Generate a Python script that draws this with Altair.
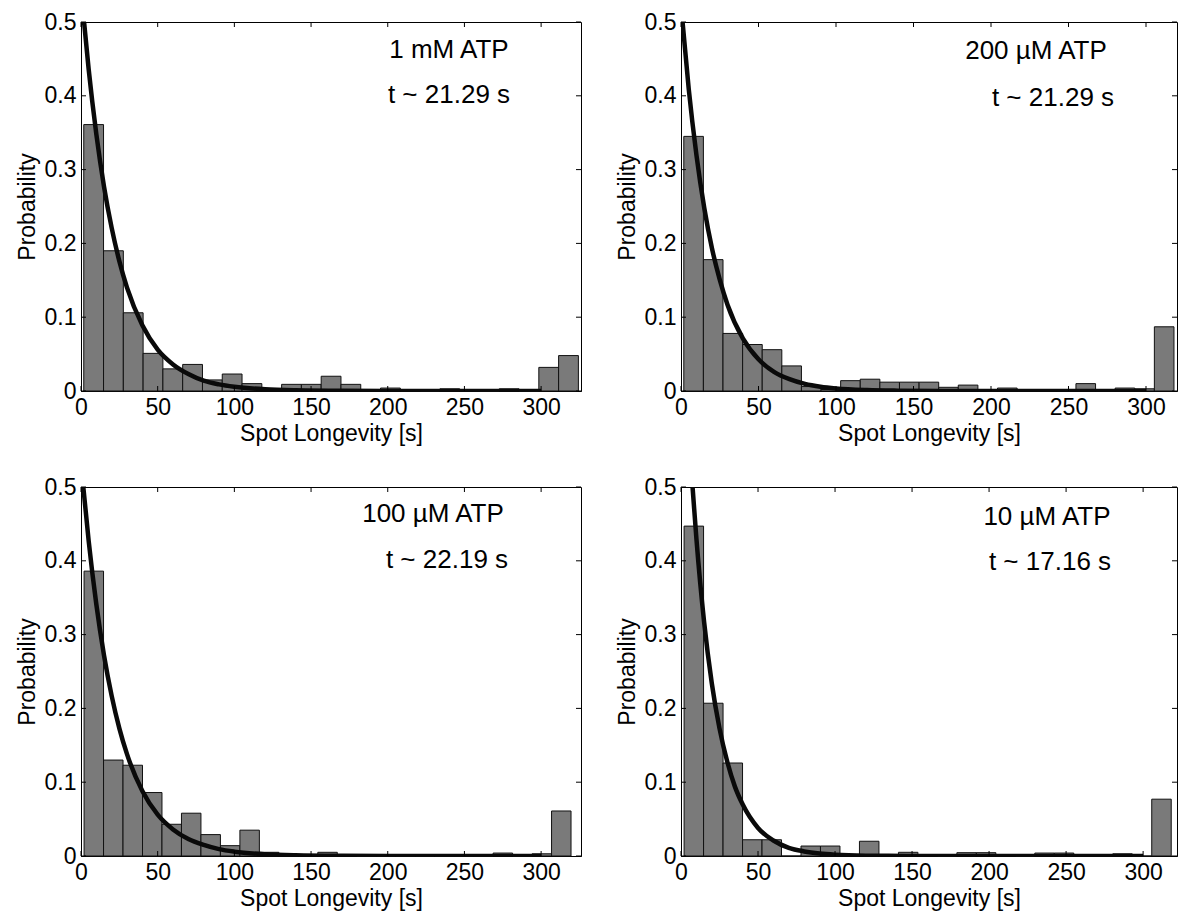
import altair as alt
import pandas as pd

FONT = "Liberation Sans"

x_ticks = [0, 50, 100, 150, 200, 250, 300]
y_ticks = [0, 0.1, 0.2, 0.3, 0.4, 0.5]

# ---- panel 1: 1 mM ATP ----
p1_label = "1 mM ATP"
p1_tau = "t ~ 21.29 s"
p1_bin_start = 1.8
p1_bin_width = 12.9
p1_probs = [0.361, 0.190, 0.106, 0.051, 0.030, 0.036, 0.015, 0.023, 0.010, 0.002,
            0.009, 0.009, 0.020, 0.009, 0.002, 0.004, 0.001, 0.0, 0.003, 0.001,
            0.0, 0.003, 0.0, 0.032, 0.048]
p1_fit_t = [2, 5, 10, 15, 20, 25, 30, 40, 50, 60, 70, 80, 90, 100, 120, 140, 170, 200, 250, 300]
p1_fit_p = [0.500, 0.436, 0.348, 0.277, 0.221, 0.176, 0.140, 0.089, 0.056, 0.036, 0.023,
            0.014, 0.009, 0.0058, 0.0023, 0.0009, 0.0002, 0.0001, 0.0, 0.0]

# ---- panel 2: 200 uM ATP ----
p2_label = "200 µM ATP"
p2_tau = "t ~ 21.29 s"
p2_bin_start = 1.8
p2_bin_width = 12.65
p2_probs = [0.345, 0.178, 0.078, 0.063, 0.056, 0.034, 0.006, 0.002, 0.014, 0.016,
            0.012, 0.012, 0.012, 0.005, 0.008, 0.001, 0.004, 0.001, 0.001, 0.001,
            0.010, 0.001, 0.004, 0.003, 0.087]
p2_fit_t = [1, 5, 10, 15, 20, 25, 30, 40, 50, 60, 70, 80, 90, 100, 120, 140, 170, 200, 250, 300]
p2_fit_p = [0.500, 0.409, 0.319, 0.248, 0.193, 0.151, 0.117, 0.071, 0.043, 0.026, 0.016,
            0.0096, 0.0058, 0.0035, 0.0013, 0.0005, 0.0001, 0.0, 0.0, 0.0]

# ---- panel 3: 100 uM ATP ----
p3_label = "100 µM ATP"
p3_tau = "t ~ 22.19 s"
p3_bin_start = 2.0
p3_bin_width = 12.7
p3_probs = [0.386, 0.130, 0.123, 0.086, 0.043, 0.058, 0.029, 0.014, 0.035, 0.005,
            0.002, 0.001, 0.005, 0.001, 0.0, 0.0, 0.0, 0.0, 0.0, 0.0,
            0.0, 0.004, 0.0, 0.003, 0.061]
p3_fit_t = [1.5, 5, 10, 15, 20, 25, 30, 40, 50, 60, 70, 80, 90, 100, 120, 140, 170, 200, 250, 300]
p3_fit_p = [0.500, 0.427, 0.341, 0.272, 0.217, 0.173, 0.138, 0.088, 0.056, 0.036, 0.023,
            0.015, 0.0093, 0.0059, 0.0024, 0.001, 0.0003, 0.0001, 0.0, 0.0]

# ---- panel 4: 10 uM ATP ----
p4_label = "10 µM ATP"
p4_tau = "t ~ 17.16 s"
p4_bin_start = 2.0
p4_bin_width = 12.65
p4_probs = [0.447, 0.207, 0.126, 0.022, 0.022, 0.0, 0.0135, 0.0135, 0.001, 0.020,
            0.001, 0.005, 0.001, 0.0, 0.0045, 0.0045, 0.001, 0.0, 0.004, 0.004,
            0.001, 0.001, 0.003, 0.0, 0.077]
p4_fit_t = [7.5, 10, 15, 20, 25, 30, 35, 40, 50, 60, 70, 80, 90, 100, 120, 150, 200, 250, 300]
p4_fit_p = [0.500, 0.430, 0.317, 0.234, 0.173, 0.128, 0.094, 0.070, 0.038, 0.021, 0.011,
            0.0062, 0.0034, 0.0018, 0.0005, 0.0001, 0.0, 0.0, 0.0]


def panel(probs, bin_start, bin_width, xmax, fit_t, fit_p, lab1, lab2, w, h,
          t1x, t1y, t2x, t2y):
    bins = pd.DataFrame({
        "x0": [bin_start + i * bin_width for i in range(len(probs))],
        "p": probs,
    })
    bins["x1"] = bins["x0"] + bin_width
    fit = pd.DataFrame({"x0": fit_t, "p": fit_p})
    xt = pd.DataFrame({"x0": x_ticks})
    yt = pd.DataFrame({"p": y_ticks})

    xs = alt.Scale(domain=[0, xmax], nice=False, zero=False)
    ys = alt.Scale(domain=[0, 0.5], nice=False)
    xaxis = alt.Axis(values=x_ticks, title="Spot Longevity [s]", ticks=False, grid=False,
                     labelFlush=False, labelOverlap=False, format="d",
                     labelPadding=5, titlePadding=3)
    yaxis = alt.Axis(values=y_ticks, title="Probability", ticks=False, grid=False,
                     labelOverlap=False, format="~g", labelPadding=5, titlePadding=5)
    X = lambda: alt.X("x0:Q", scale=xs, axis=xaxis)
    Y = lambda: alt.Y("p:Q", scale=ys, axis=yaxis)

    bars = alt.Chart(bins).mark_rect(fill="#7a7a7a", stroke="#111111", strokeWidth=1).encode(
        x=X(), x2="x1:Q", y=Y(), y2=alt.datum(0))
    curve = alt.Chart(fit).mark_line(color="#0a0a0a", strokeWidth=4.5, clip=True,
                                     interpolate="monotone").encode(x=X(), y=Y())
    top_t = alt.Chart(xt).mark_rule(color="black").encode(x=X(), y=alt.value(0), y2=alt.value(5))
    bot_t = alt.Chart(xt).mark_rule(color="black").encode(x=X(), y=alt.value(h), y2=alt.value(h - 5))
    lef_t = alt.Chart(yt).mark_rule(color="black").encode(y=Y(), x=alt.value(0), x2=alt.value(5))
    rig_t = alt.Chart(yt).mark_rule(color="black").encode(y=Y(), x=alt.value(w - 5), x2=alt.value(w))
    txt1 = alt.Chart(pd.DataFrame({"s": [lab1]})).mark_text(
        font=FONT, fontSize=26, align="center", baseline="middle", color="black").encode(
        text="s:N", x=alt.value(t1x), y=alt.value(t1y))
    txt2 = alt.Chart(pd.DataFrame({"s": [lab2]})).mark_text(
        font=FONT, fontSize=26, align="center", baseline="middle", color="black").encode(
        text="s:N", x=alt.value(t2x), y=alt.value(t2y))
    return alt.layer(bars, curve, top_t, bot_t, lef_t, rig_t, txt1, txt2).properties(
        width=w, height=h)


WL, WR, H = 500, 496, 369

c1 = panel(p1_probs, p1_bin_start, p1_bin_width, 326, p1_fit_t, p1_fit_p,
           p1_label, p1_tau, WL, H, 368, 28, 368, 73)
c2 = panel(p2_probs, p2_bin_start, p2_bin_width, 320, p2_fit_t, p2_fit_p,
           p2_label, p2_tau, WR, H, 355, 29, 372, 76)
c3 = panel(p3_probs, p3_bin_start, p3_bin_width, 326, p3_fit_t, p3_fit_p,
           p3_label, p3_tau, WL, H, 352, 27, 366, 73)
c4 = panel(p4_probs, p4_bin_start, p4_bin_width, 322, p4_fit_t, p4_fit_p,
           p4_label, p4_tau, WR, H, 366, 30, 369, 75)

chart = alt.vconcat(
    alt.hconcat(c1, c2, spacing=33),
    alt.hconcat(c3, c4, spacing=33),
    spacing=29,
).configure_view(stroke="black", strokeWidth=1).configure_axis(
    labelFont=FONT, titleFont=FONT, labelFontSize=23, titleFontSize=23,
    labelColor="black", titleColor="black", domainColor="black",
    titleFontWeight="normal",
).properties(
    padding={"left": 15, "top": 10, "right": 0, "bottom": 0},
    background="white",
)

chart.save("out.html", embed_options={"renderer": "svg", "actions": False})
